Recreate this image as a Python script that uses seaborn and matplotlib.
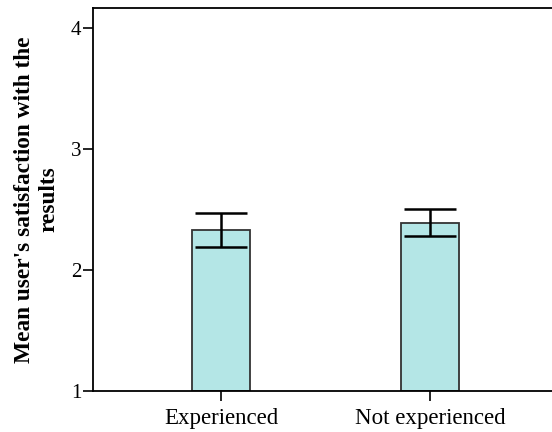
import matplotlib
matplotlib.use("Agg")
import matplotlib.pyplot as plt
import seaborn as sns
import pandas as pd

# Group means and 95% CI bounds of user satisfaction
groups = ["Experienced", "Not experienced"]
means = [2.33, 2.39]
ci_lower = [2.19, 2.28]
ci_upper = [2.47, 2.50]
y_ticks = [1, 2, 3, 4]

sns.set_style("white")
plt.rcParams["font.family"] = ["Liberation Serif", "DejaVu Serif"]
plt.rcParams["text.color"] = "black"
plt.rcParams["axes.labelcolor"] = "black"
plt.rcParams["xtick.color"] = "black"
plt.rcParams["ytick.color"] = "black"

df = pd.DataFrame({"group": groups, "mean": means})

fig = plt.figure(figsize=(5.52, 4.32), dpi=100)
ax = fig.add_axes([0.1685, 0.0949, 0.8425, 0.8866])

sns.barplot(data=df, x="group", y="mean", color="#b4e6e6", saturation=1,
            width=0.278, edgecolor="#333333", linewidth=1.3, errorbar=None,
            ax=ax)

# Bars start from the axis floor at 1
for patch, m in zip(ax.patches, means):
    patch.set_y(1)
    patch.set_height(m - 1)

xs = list(range(len(groups)))
yerr = [[m - lo for m, lo in zip(means, ci_lower)],
        [hi - m for m, hi in zip(means, ci_upper)]]
ax.errorbar(xs, means, yerr=yerr, fmt="none", ecolor="black",
            elinewidth=1.8, capsize=18.5, capthick=1.8, zorder=5)

ax.set_xlim(-0.612, 1.612)
ax.set_ylim(1, 4.165)
ax.set_yticks(y_ticks)
ax.set_yticklabels([str(t) for t in y_ticks], fontsize=15)
ax.tick_params(axis="y", direction="out", length=7.5, width=1.2, pad=1,
               left=True, color="black", labelcolor="black")
ax.tick_params(axis="x", direction="out", length=7, width=1.2, pad=5,
               bottom=True, color="black", labelcolor="black", labelsize=16.5)

for side in ["left", "bottom", "top"]:
    ax.spines[side].set_visible(True)
    ax.spines[side].set_color("black")
    ax.spines[side].set_linewidth(1.3)
ax.spines["right"].set_visible(False)

ax.set_xlabel("")
ax.set_ylabel("Mean user's satisfaction with the\nresults",
              fontsize=16.8, fontweight="bold", linespacing=1.2, color="black")
ax.yaxis.set_label_coords(-0.072, 0.5)

fig.savefig("out.png", dpi=100)
